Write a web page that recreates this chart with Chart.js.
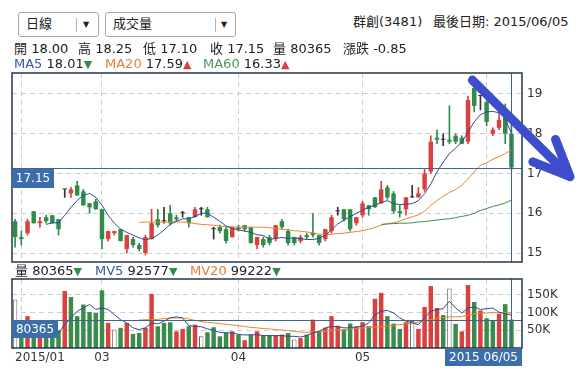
<!DOCTYPE html>
<html>
<head>
<meta charset="utf-8">
<script src="https://cdn.jsdelivr.net/npm/chart.js@4.4.0/dist/chart.umd.min.js"></script>
<style>
body{margin:0;width:578px;height:375px;background:#fff;position:relative;overflow:hidden;
  font-family:"DejaVu Sans","Noto Sans CJK TC",sans-serif;color:#222;font-size:13px}
.sel{position:absolute;top:12px;height:23px;border:1px solid #a8a8a8;border-radius:3px;background:#fff}
.sel span{position:absolute;top:3px;line-height:16px}
.sel i{position:absolute;top:5px;height:14px;border-left:1px solid #b5b5b5}
.sel b{position:absolute;top:6px;font-size:8px;font-weight:normal;line-height:12px}
.t{position:absolute;line-height:16px;white-space:pre}
.blue{color:#3a5a9a}.orange{color:#e0823a}.green{color:#4a9463}
.dn{color:#2f8c4b;font-size:11px}.up{color:#d8413d;font-size:11px}
canvas{position:absolute;left:0}
</style>
</head>
<body>
<div class="sel" style="left:18px;width:79px"><span style="left:7px">日線</span><i style="left:57px"></i><b style="left:64px">▼</b></div>
<div class="sel" style="left:105px;width:129px"><span style="left:7px">成交量</span><i style="left:109px"></i><b style="left:115px">▼</b></div>
<div class="t" id="title" style="left:353px;top:14px"></div>
<div class="t" id="last" style="left:433px;top:14px"></div>

<canvas id="priceChart" width="578" height="200" style="top:70px"></canvas>
<canvas id="volChart" width="578" height="99" style="top:276px"></canvas>

<div id="ohlc"></div>
<div id="maRow"></div>
<div id="volRow"></div>

<script>
const stockName = '群創(3481)'
const lastDate = '2015/06/05'
// x axis: candle index of each month tick and its text
const tickIdx = [1, 14, 36, 56, 76]
const tickText = ['2015/01', '03', '04', '05', '']
const priceTicks = [15, 16, 17, 18, 19]
const volTicks = [50000, 100000, 150000]

const openP = [
  15.80, 15.40, 15.50, 16.05, 15.75, 15.90, 15.95, 15.85, 16.60, 16.50,
  16.70, 16.55, 16.25, 16.30, 16.10, 15.35, 15.50, 15.60, 15.10, 15.35,
  15.20, 15.00, 15.35, 15.85, 15.80, 16.00, 15.90, 16.00, 15.90, 15.90,
  16.10, 16.10, 15.60, 15.65, 15.60, 15.40, 15.65, 15.70, 15.65, 15.20,
  15.35, 15.40, 15.35, 15.80, 15.55, 15.40, 15.30, 15.45, 15.50, 15.45,
  15.35, 15.55, 16.05, 16.10, 16.10, 15.75, 15.95, 16.20, 16.40, 16.25,
  16.65, 16.50, 16.05, 16.10, 16.40, 16.40, 16.60, 17.05, 17.90, 17.85,
  17.85, 17.95, 17.90, 17.80, 19.15, 18.95, 18.80, 18.00, 18.15, 18.45,
  18.00
]
const highP = [
  15.85, 15.55, 15.85, 16.05, 15.90, 15.95, 15.95, 15.85, 16.60, 16.65,
  16.80, 16.60, 16.25, 16.35, 16.10, 15.55, 15.55, 15.60, 15.45, 15.40,
  15.25, 15.45, 16.10, 16.10, 16.15, 16.20, 15.95, 16.05, 15.90, 16.15,
  16.15, 16.15, 15.65, 15.70, 15.65, 15.65, 15.70, 15.70, 15.65, 15.40,
  15.40, 15.45, 15.70, 15.85, 15.60, 15.40, 15.45, 15.50, 16.00, 15.45,
  15.60, 15.95, 16.15, 16.10, 16.10, 15.90, 16.30, 16.20, 16.40, 16.80,
  16.70, 16.55, 16.20, 16.40, 16.70, 16.65, 17.10, 17.95, 18.10, 18.00,
  18.70, 18.00, 17.95, 18.95, 19.20, 18.95, 18.85, 18.15, 18.60, 18.75,
  18.25
]
const lowP = [
  15.15, 15.20, 15.45, 15.75, 15.65, 15.75, 15.75, 15.45, 16.40, 16.40,
  16.45, 16.20, 16.00, 16.10, 15.10, 15.30, 15.45, 15.30, 15.00, 15.15,
  15.05, 14.95, 15.35, 15.65, 15.75, 15.70, 15.80, 15.90, 15.65, 15.90,
  15.95, 15.90, 15.35, 15.50, 15.25, 15.40, 15.55, 15.55, 15.25, 15.10,
  15.15, 15.20, 15.30, 15.60, 15.20, 15.20, 15.25, 15.35, 15.40, 15.20,
  15.30, 15.50, 15.95, 15.80, 15.55, 15.70, 15.90, 15.95, 16.15, 16.25,
  16.35, 16.00, 15.90, 15.95, 16.40, 16.40, 16.55, 17.00, 17.75, 17.70,
  17.75, 17.75, 17.75, 17.75, 18.55, 18.60, 18.20, 17.95, 18.10, 17.75,
  17.10
]
const closeP = [
  15.40, 15.35, 15.80, 15.75, 15.80, 15.80, 15.75, 15.60, 16.60, 16.60,
  16.45, 16.20, 16.15, 16.10, 15.35, 15.55, 15.55, 15.30, 15.45, 15.20,
  15.10, 15.40, 15.75, 15.70, 15.80, 15.75, 15.85, 16.00, 15.75, 16.10,
  16.10, 15.90, 15.60, 15.55, 15.30, 15.65, 15.60, 15.60, 15.25, 15.40,
  15.20, 15.25, 15.70, 15.65, 15.25, 15.25, 15.40, 15.40, 15.45, 15.25,
  15.60, 15.90, 16.05, 15.85, 15.60, 15.90, 16.25, 16.10, 16.15, 16.60,
  16.40, 16.05, 16.00, 16.40, 16.40, 16.50, 17.00, 17.80, 17.85, 17.85,
  17.80, 17.80, 17.75, 18.85, 18.70, 18.95, 18.30, 18.10, 18.35, 18.00,
  17.15
]
// moving averages
const ma5 = [
  null, null, null, null, null, 15.72, 15.76, 15.76, 15.95, 16.15,
  16.32, 16.45, 16.50, 16.40, 16.20, 15.95, 15.75, 15.60, 15.52, 15.45,
  15.38, 15.33, 15.37, 15.45, 15.58, 15.72, 15.80, 15.86, 15.86, 15.92,
  16.00, 16.00, 15.90, 15.80, 15.68, 15.62, 15.58, 15.55, 15.52, 15.46,
  15.44, 15.34, 15.37, 15.39, 15.37, 15.38, 15.36, 15.34, 15.34, 15.37,
  15.45, 15.58, 15.73, 15.83, 15.91, 16.00, 16.08, 16.15, 16.20, 16.27,
  16.32, 16.24, 16.22, 16.23, 16.24, 16.32, 16.49, 16.74, 17.04, 17.29,
  17.50, 17.64, 17.79, 18.04, 18.30, 18.48, 18.55, 18.56, 18.53, 18.38,
  18.01
]
const ma20 = [
  null, null, null, null, null, null, null, null, null, null,
  null, null, null, null, null, null, null, null, null, null,
  15.77, 15.78, 15.78, 15.78, 15.78, 15.78, 15.78, 15.78, 15.76, 15.74,
  15.72, 15.71, 15.70, 15.68, 15.66, 15.66, 15.65, 15.65, 15.65, 15.65,
  15.65, 15.64, 15.61, 15.60, 15.58, 15.56, 15.55, 15.53, 15.51, 15.48,
  15.46, 15.47, 15.49, 15.50, 15.52, 15.54, 15.56, 15.60, 15.64, 15.70,
  15.74, 15.76, 15.80, 15.86, 15.91, 15.96, 16.05, 16.20, 16.32, 16.43,
  16.52, 16.60, 16.70, 16.87, 17.04, 17.21, 17.27, 17.36, 17.42, 17.50,
  17.59
]
const ma60 = [
  null, null, null, null, null, null, null, null, null, null,
  null, null, null, null, null, null, null, null, null, null,
  null, null, null, null, null, null, null, null, null, null,
  null, null, null, null, null, null, null, null, null, null,
  null, null, null, null, null, null, null, null, null, null,
  null, null, null, null, null, null, null, null, null, 15.72,
  15.73, 15.74, 15.75, 15.75, 15.76, 15.78, 15.79, 15.81, 15.83, 15.85,
  15.86, 15.89, 15.92, 15.95, 16.00, 16.07, 16.12, 16.17, 16.21, 16.26,
  16.33
]
const volume = [
  137000, 60000, 90000, 40000, 45000, 35000, 40000, 50000, 161000, 144000,
  90000, 123000, 102000, 99000, 163000, 71000, 52000, 57000, 71000, 40000,
  42500, 57000, 153000, 61500, 71000, 72700, 47000, 54000, 61500, 66000,
  33000, 44500, 58600, 33000, 42500, 47000, 37000, 22000, 38000, 47000,
  36000, 36000, 36000, 38000, 42500, 24000, 28000, 38000, 80000, 47000,
  57000, 90000, 63000, 52000, 69000, 60000, 73000, 61500, 139000, 156000,
  90000, 69000, 54000, 73000, 76000, 54000, 116000, 175000, 113000, 93000,
  168000, 68000, 47000, 178000, 130000, 106000, 84000, 76500, 97000, 124000,
  80365
]
// 1 = up (red), -1 = down (green), 0 = unchanged (white)
const volDir = [
  0, -1, 1, -1, 1, -1, -1, -1, 1, -1,
  -1, -1, -1, -1, -1, 1, 0, -1, 1, -1,
  -1, 1, 1, -1, -1, -1, 1, 1, -1, 1,
  0, -1, -1, -1, -1, 1, -1, 1, -1, 1,
  -1, -1, 1, 1, -1, 0, 1, -1, 1, -1,
  1, 1, 1, -1, -1, 1, 1, -1, 1, 1,
  -1, -1, -1, 1, 0, 1, 1, 1, 1, -1,
  0, -1, 1, 1, -1, 1, -1, -1, 1, -1,
  -1
]
const mv5 = [
  null, null, null, null, null, 44000, 43000, 42000, 66000, 85000,
  104000, 113000, 123000, 109000, 113000, 109000, 94000, 80000, 71000, 57000,
  52000, 57000, 71000, 68000, 76000, 85000, 88000, 85000, 63000, 61000,
  60000, 54000, 50000, 44000, 43000, 43000, 38000, 37000, 37000, 38000,
  35000, 35000, 35000, 35000, 33000, 33000, 31000, 35000, 43000, 47000,
  57000, 61000, 60000, 57000, 57000, 60000, 61000, 71000, 94000, 104000,
  106000, 99000, 85000, 76000, 71000, 66000, 85000, 104000, 109000, 111000,
  132000, 113000, 99000, 113000, 116000, 109000, 111000, 113000, 101000, 97000,
  92577
]
const mv20 = [
  null, null, null, null, null, null, null, null, null, null,
  null, null, null, null, null, null, null, null, null, null,
  79000, 80000, 80000, 81000, 83000, 85000, 85000, 85000, 82000, 78000,
  75000, 72000, 71000, 69000, 67000, 65000, 63000, 61000, 58000, 57000,
  55000, 54000, 52000, 51000, 49000, 47000, 45000, 44000, 45000, 46000,
  48000, 50000, 51000, 52000, 54000, 55000, 57000, 58000, 59000, 60000,
  62000, 64000, 66000, 68000, 70000, 73000, 77000, 80000, 84000, 86000,
  88000, 88000, 89000, 93000, 96000, 98000, 99000, 100000, 100000, 99500,
  99222
]

const last = closeP.length - 1
const upC = '#d8413d', dnC = '#2f8c4b', flatC = '#333333'
const tagC = '#3b6eaa', lineC = '#41648a', frameC = '#22374b', gridC = '#cdcdcd'

Chart.defaults.font.family = '"DejaVu Sans", "Noto Sans CJK TC", sans-serif'
Chart.defaults.font.size = 12
Chart.defaults.color = '#333'

// ---- header texts
function arrow(a, b) {
  return a < b ? '<span class="up">▲</span>' : '<span class="dn">▼</span>'
}
document.getElementById('title').textContent = stockName
document.getElementById('last').textContent = '最後日期: ' + lastDate

let items = [
  ['開', openP[last].toFixed(2), 14], ['高', highP[last].toFixed(2), 78],
  ['低', lowP[last].toFixed(2), 143], ['收', closeP[last].toFixed(2), 210],
  ['量', volume[last], 273], ['漲跌', (closeP[last] - closeP[last - 1]).toFixed(2), 343]
]
let html = ''
items.forEach(function (it) {
  html += '<div class="t" style="left:' + it[2] + 'px;top:41px">' + it[0] + ' ' + it[1] + '</div>'
})
document.getElementById('ohlc').innerHTML = html

document.getElementById('maRow').innerHTML =
  '<div class="t" style="left:14px;top:56px"><span class="blue">MA5</span> ' + ma5[last].toFixed(2) + arrow(ma5[last - 1], ma5[last]) + '</div>' +
  '<div class="t" style="left:105px;top:56px"><span class="orange">MA20</span> ' + ma20[last].toFixed(2) + arrow(ma20[last - 1], ma20[last]) + '</div>' +
  '<div class="t" style="left:203px;top:56px"><span class="green">MA60</span> ' + ma60[last].toFixed(2) + arrow(ma60[last - 1], ma60[last]) + '</div>'

document.getElementById('volRow').innerHTML =
  '<div class="t" style="left:15px;top:263px">量 ' + volume[last] + arrow(volume[last - 1], volume[last]) + '</div>' +
  '<div class="t" style="left:95px;top:263px"><span class="blue">MV5</span> ' + mv5[last] + arrow(mv5[last - 1], mv5[last]) + '</div>' +
  '<div class="t" style="left:190px;top:263px"><span class="orange">MV20</span> ' + mv20[last] + arrow(mv20[last - 1], mv20[last]) + '</div>'

// ---- helpers
function candleColor(i) {
  if (closeP[i] > openP[i]) return upC
  if (closeP[i] < openP[i]) return dnC
  return flatC
}
function pts(arr) {
  return arr.map(function (v, i) { return {x: i, y: v} })
}
function noPad(s) {
  s.paddingTop = 0; s.paddingBottom = 0; s.paddingLeft = 0; s.paddingRight = 0
}
function xAxis() {
  return {
    type: 'linear', min: -0.5, max: 81.7, offset: false,
    afterBuildTicks: function (s) { s.ticks = tickIdx.map(function (v) { return {value: v} }) },
    afterFit: function (s) { s.height = 0; noPad(s) },
    ticks: {display: false},
    grid: {color: gridC, drawTicks: false, offset: false},
    border: {display: false, dash: [5, 4]}
  }
}
function yAxis(min, max, ticks, fmt) {
  return {
    position: 'right', min: min, max: max,
    afterBuildTicks: function (s) { s.ticks = ticks.map(function (v) { return {value: v} }) },
    afterFit: function (s) { s.width = 56; noPad(s) },
    ticks: {padding: 5, callback: fmt},
    grid: {color: gridC, drawTicks: false},
    border: {display: false, dash: [5, 4]}
  }
}
function tag(ctx, text, x, y, h, alignRight) {
  ctx.font = '12px "DejaVu Sans"'
  let w = Math.round(ctx.measureText(text).width) + 8
  if (alignRight) x = x - w
  ctx.fillStyle = tagC
  ctx.fillRect(x, y, w, h)
  ctx.fillStyle = '#fff'
  ctx.textAlign = 'center'
  ctx.textBaseline = 'middle'
  ctx.fillText(text, x + w / 2, y + h / 2 + 0.5)
}
function crossLines(chart, yVal) {
  const ctx = chart.ctx, a = chart.chartArea
  const ly = Math.round(chart.scales.y.getPixelForValue(yVal)) + 0.5
  const lx = Math.round(chart.scales.x.getPixelForValue(last)) + 0.5
  ctx.strokeStyle = lineC
  ctx.lineWidth = 1
  ctx.beginPath()
  ctx.moveTo(a.left, ly); ctx.lineTo(a.right, ly)
  ctx.moveTo(lx, a.top); ctx.lineTo(lx, a.bottom)
  ctx.stroke()
  ctx.strokeStyle = frameC
  ctx.lineWidth = 1.5
  ctx.strokeRect(a.left, a.top, a.right - a.left, a.bottom - a.top)
  return ly - 0.5
}

// ---- price chart
const priceDeco = {
  id: 'priceDeco',
  afterDatasetsDraw: function (chart) {
    const ctx = chart.ctx
    ctx.save()
    let ly = crossLines(chart, closeP[last])
    tag(ctx, closeP[last].toFixed(2), chart.chartArea.left, ly + 1, 19, false)
    ctx.restore()
  },
  afterDraw: function (chart) {
    // hand drawn blue arrow pointing down-right
    const ctx = chart.ctx, x = chart.scales.x, y = chart.scales.y, a = chart.chartArea
    const x0 = x.getPixelForValue(73.7), y0 = y.getPixelForValue(19.35)
    const x1 = a.right + 48, y1 = y.getPixelForValue(16.92)
    const ang = Math.atan2(y0 - y1, x0 - x1)
    ctx.save()
    ctx.strokeStyle = '#3d4dcc'
    ctx.lineWidth = 9
    ctx.lineCap = 'round'
    ctx.lineJoin = 'round'
    ctx.beginPath()
    ctx.moveTo(x0, y0); ctx.lineTo(x1, y1)
    ctx.moveTo(x1 + 40 * Math.cos(ang + 0.42), y1 + 40 * Math.sin(ang + 0.42))
    ctx.lineTo(x1, y1)
    ctx.lineTo(x1 + 40 * Math.cos(ang - 0.40), y1 + 40 * Math.sin(ang - 0.40))
    ctx.stroke()
    ctx.restore()
  }
}

new Chart(document.getElementById('priceChart'), {
  data: {
    datasets: [
      {
        type: 'bar', order: 3, grouped: false, barThickness: 1,
        data: closeP.map(function (c, i) { return {x: i, y: [lowP[i], highP[i]]} }),
        backgroundColor: function (ctx) { return candleColor(ctx.dataIndex) }
      },
      {
        type: 'bar', order: 2, grouped: false, minBarLength: 1,
        categoryPercentage: 0.8, barPercentage: 0.9,
        data: closeP.map(function (c, i) { return {x: i, y: [Math.min(openP[i], c), Math.max(openP[i], c)]} }),
        backgroundColor: function (ctx) { return candleColor(ctx.dataIndex) }
      },
      {type: 'line', order: 1, data: pts(ma60), borderColor: '#3f8a55', borderWidth: 1, pointRadius: 0},
      {type: 'line', order: 1, data: pts(ma20), borderColor: '#e8862f', borderWidth: 1, pointRadius: 0},
      {type: 'line', order: 0, data: pts(ma5), borderColor: '#2b4d8f', borderWidth: 1, pointRadius: 0}
    ]
  },
  options: {
    responsive: false,
    animation: false,
    layout: {padding: {left: 12, top: 3, right: 0, bottom: 8}},
    plugins: {legend: {display: false}, tooltip: {enabled: false}},
    scales: {
      x: xAxis(),
      y: yAxis(14.774, 19.528, priceTicks, function (v) { return v })
    }
  },
  plugins: [priceDeco]
})

// ---- volume chart
const volDeco = {
  id: 'volDeco',
  afterDatasetsDraw: function (chart) {
    const ctx = chart.ctx, a = chart.chartArea, x = chart.scales.x
    ctx.save()
    let ly = crossLines(chart, volume[last])
    tag(ctx, String(volume[last]), a.left, ly, 18, false)
    // month labels under the panel
    ctx.font = '12px "DejaVu Sans"'
    ctx.fillStyle = '#333'
    ctx.textAlign = 'center'
    ctx.textBaseline = 'middle'
    tickIdx.forEach(function (v, k) {
      if (!tickText[k]) return
      let w = ctx.measureText(tickText[k]).width
      let px = Math.max(x.getPixelForValue(v), a.left + 3 + w / 2)
      ctx.fillText(tickText[k], px, a.bottom + 10)
    })
    tag(ctx, lastDate.replace('/', ' '), a.right, a.bottom + 1, 17, true)
    ctx.restore()
  }
}

new Chart(document.getElementById('volChart'), {
  data: {
    datasets: [
      {
        type: 'bar', order: 2, grouped: false,
        categoryPercentage: 0.8, barPercentage: 0.9,
        data: pts(volume),
        backgroundColor: function (ctx) {
          let d = volDir[ctx.dataIndex]
          return d > 0 ? upC : d < 0 ? '#3a8c4c' : '#ffffff'
        },
        borderColor: '#666',
        borderWidth: function (ctx) { return volDir[ctx.dataIndex] === 0 ? 1 : 0 }
      },
      {type: 'line', order: 1, data: pts(mv20), borderColor: '#e8862f', borderWidth: 1, pointRadius: 0},
      {type: 'line', order: 0, data: pts(mv5), borderColor: '#2b4d8f', borderWidth: 1, pointRadius: 0}
    ]
  },
  options: {
    responsive: false,
    animation: false,
    layout: {padding: {left: 12, top: 3, right: 0, bottom: 27}},
    plugins: {legend: {display: false}, tooltip: {enabled: false}},
    scales: {
      x: xAxis(),
      y: yAxis(0, 195000, volTicks, function (v) { return (v / 1000) + 'K' })
    }
  },
  plugins: [volDeco]
})
</script>
</body>
</html>
